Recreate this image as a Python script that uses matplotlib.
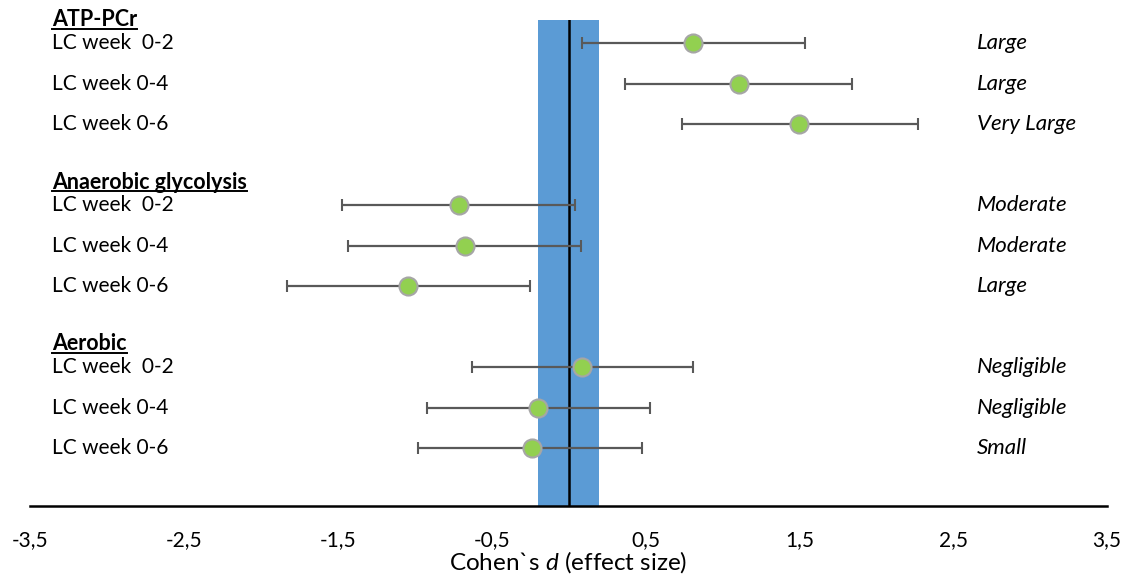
import matplotlib
matplotlib.use("Agg")
import matplotlib.pyplot as plt

plt.rcParams['font.family'] = ['Lato', 'DejaVu Sans']
plt.rcParams['mathtext.fontset'] = 'custom'
plt.rcParams['mathtext.it'] = 'Lato:italic'
plt.rcParams['mathtext.rm'] = 'Lato'

groups = ['ATP-PCr', 'Anaerobic glycolysis', 'Aerobic']
rows = ['LC week  0-2', 'LC week 0-4', 'LC week 0-6']
d = [0.81, 1.11, 1.50,
     -0.71, -0.67, -1.04,
     0.09, -0.20, -0.24]
lo = [0.09, 0.37, 0.74,
      -1.47, -1.43, -1.83,
      -0.63, -0.92, -0.98]
hi = [1.54, 1.84, 2.27,
      0.04, 0.08, -0.25,
      0.81, 0.53, 0.48]
size_words = ['Large', 'Large', 'Very Large',
              'Moderate', 'Moderate', 'Large',
              'Negligible', 'Negligible', 'Small']
ticks = [-3.5, -2.5, -1.5, -0.5, 0.5, 1.5, 2.5, 3.5]

fig = plt.figure(figsize=(11.33, 5.74), dpi=100)
ax = fig.add_axes([30/1133, 1-506/574, 1077/1133, 486/574])
ax.set_xlim(-3.5, 3.5)
ax.set_ylim(11.43, -0.57)

ax.axvspan(-0.2, 0.2, color='#5B9BD5', zorder=1, lw=0)
ax.axvline(0, color='black', lw=1.8, zorder=2)

ypos = []
for g in range(3):
    for r in range(3):
        ypos.append(g * 4 + r)

xerr = [[m - l for m, l in zip(d, lo)], [h - m for m, h in zip(d, hi)]]
ax.errorbar(d, ypos, xerr=xerr, fmt='o', color='#595959', ecolor='#595959',
            elinewidth=1.6, capsize=4.5, capthick=1.6, markersize=13,
            markerfacecolor='#92D050', markeredgecolor='#A6A6A6',
            markeredgewidth=1.5, zorder=3)

tf = ax.get_yaxis_transform()
fs = 15
headers = []
for g, name in enumerate(groups):
    t = ax.text(22/1077, g * 4 - 0.57, name, transform=tf, fontsize=15.5,
                fontweight='bold', va='center', ha='left')
    headers.append(t)
    for r, lab in enumerate(rows):
        ax.text(22/1077, g * 4 + r, lab, transform=tf, fontsize=fs,
                va='center', ha='left')
for y, w in zip(ypos, size_words):
    ax.text(947/1077, y, w, transform=tf, fontsize=16, style='italic',
            va='center', ha='left')

for s in ['left', 'right', 'top']:
    ax.spines[s].set_visible(False)
ax.spines['bottom'].set_linewidth(1.8)
ax.set_yticks([])
ax.set_xticks(ticks)
ax.set_xticklabels([('%.1f' % t).replace('.', ',') for t in ticks], fontsize=fs)
ax.tick_params(axis='x', length=0, pad=17)
ax.set_xlabel(r'Cohen`s $d$ (effect size)', fontsize=17.5, labelpad=0)

# underline the group headers
fig.canvas.draw()
r = fig.canvas.get_renderer()
inv = fig.transFigure.inverted()
for t in headers:
    bb = t.get_window_extent(r)
    (x0, y0), (x1, _) = inv.transform([(bb.x0, bb.y0), (bb.x1, bb.y1)])
    fig.add_artist(plt.Line2D([x0, x1], [y0 + 0.003, y0 + 0.003], color='black',
                              lw=1.4, transform=fig.transFigure))

fig.savefig('out.png', dpi=100)
